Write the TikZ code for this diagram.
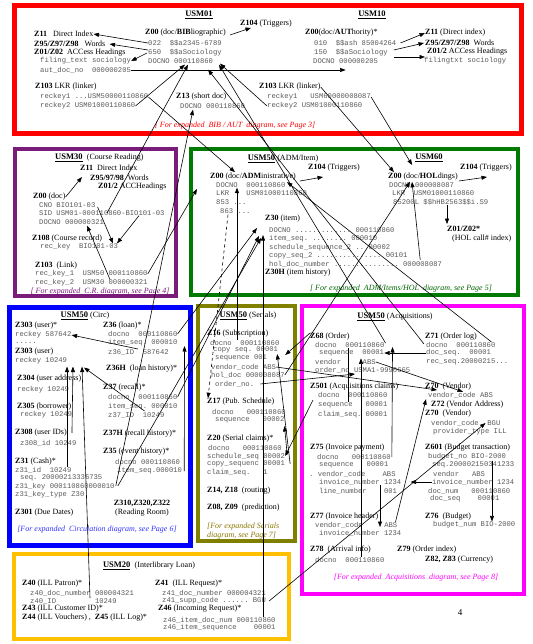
\documentclass[tikz,border=0pt]{standalone}
\usepackage{fontspec}
\setmainfont{Liberation Serif}
\setmonofont{Liberation Mono}
\usetikzlibrary{arrows.meta,calc}
\definecolor{monogray}{HTML}{5A5A5A}
\definecolor{fred}{HTML}{FF0000}
\definecolor{fpurple}{HTML}{7A1C7A}
\definecolor{fgreen}{HTML}{007A00}
\definecolor{fblue}{HTML}{0000FF}
\definecolor{folive}{HTML}{7F7F00}
\definecolor{fmag}{HTML}{FF00FF}
\definecolor{forange}{HTML}{FFC000}
\definecolor{ngreen}{HTML}{006400}
\definecolor{nblue}{HTML}{3333FF}
\definecolor{nolive}{HTML}{8B7500}
\begin{document}
\begin{tikzpicture}[x=1pt,y=-1pt,
 lab/.style={anchor=west,inner sep=0pt,font=\fontsize{8}{9}\selectfont},
 mono/.style={anchor=west,inner sep=0pt,text=monogray,font=\fontsize{7.2}{8}\selectfont\ttfamily},
 ttl/.style={inner sep=0pt,font=\fontsize{8.5}{10}\selectfont},
 note/.style={inner sep=0pt,font=\fontsize{8}{9}\selectfont\itshape},
 frame/.style={line width=4pt},
 ar/.style={line width=0.6pt,-{Triangle[length=5.5pt,width=4pt]}},
 ln/.style={line width=0.6pt}]
\fill[white] (0,0) rectangle (532,644);
\useasboundingbox (0,0) rectangle (532,644);
% frames
\draw[frame,line width=5pt,draw=fred] (14.5,5.5) rectangle (521,134);
\draw[frame,draw=fpurple] (15,149) rectangle (176,296);
\draw[frame,draw=fgreen] (191,149) rectangle (518,295);
\draw[frame,line width=5pt,draw=fblue] (9.5,307.5) rectangle (190.5,545.5);
\draw[frame,draw=folive] (198,306) rectangle (295,541);
\draw[frame,draw=fmag] (302,306) rectangle (524,594);
\draw[frame,draw=forange] (14,554) rectangle (289,639);

% ---------------- USM01
\node[ttl] (usm01) at (199,15) {\underline{\textbf{USM01}}};
\node[lab] (z104a) at (240,24) {\textbf{Z104} (Triggers)};
\node[lab] (z11a) at (34,34) {\textbf{Z11}~~ Direct Index};
\node[lab] (z95a) at (34,44) {\textbf{Z95/Z97/Z98}~~ Words};
\node[lab] (z01a) at (34,53) {\textbf{Z01/Z02}~ ACCess Headings};
\node[mono] (filt) at (40,61) {filing\_text sociology};
\node[mono] (autd) at (40,70) {aut\_doc\_no~~000000205};
\node[lab] (z00bib) at (145,33) {\textbf{Z00} (doc/\textbf{BIB}liographic)};
\node[mono] (f022) at (148,43) {022~~\$\$a2345-6789};
\node[mono] (f650) at (148,53) {650~~\$\$aSociology};
\node[mono] (docbib) at (148,61) {DOCNO 000110860};
\node[lab] (z103a) at (35,87) {\textbf{Z103} LKR (linker)};
\node[mono] (rk1a) at (40,97) {reckey1 ...USM50000110860};
\node[mono] (rk2a) at (40,106) {reckey2 USM01000110860};
\node[lab] (z13) at (176,97) {\textbf{Z13} (short doc)};
\node[mono] (docz13) at (180,106) {DOCNO 000110860};
\node[note,text=fred] (notebib) at (235,126) {[ For expanded~ BIB / AUT~ diagram, see Page 3]};
% ---------------- USM10
\node[ttl] (usm10) at (372,15) {\underline{\textbf{USM10}}};
\node[lab] (z00aut) at (305,33) {\textbf{Z00}(doc/\textbf{AUT}hority)*};
\node[mono] (f010) at (314,43) {010~~\$\$ash 85004264};
\node[mono] (f150) at (314,53) {150~~\$\$aSociology};
\node[mono] (docaut) at (313,61) {DOCNO 000000205};
\node[lab] (z11b) at (425,33) {\textbf{Z11} (Direct index)};
\node[lab] (z95b) at (425,43) {\textbf{Z95/Z97/Z98}~ Words};
\node[lab] (z01b) at (427,52) {\textbf{Z01/2} ACCess Headings};
\node[mono] (filb) at (424,61) {filingtxt sociology};
\node[lab] (z103b) at (259,87) {\textbf{Z103} LKR (linker)};
\node[mono] (rk1b) at (267,97) {reckey1~~~USM60000008087};
\node[mono] (rk2b) at (267,106) {reckey2 USM01000110860};

% ---------------- USM30
\node[ttl,anchor=west] (usm30) at (55,158) {\underline{\textbf{USM30}}~ \fontsize{8}{9}\selectfont(Course Reading)};
\node[lab] (z11c) at (80,168) {\textbf{Z11}~ Direct Index};
\node[lab] (z95c) at (90,178) {\textbf{Z95/97/98}~ Words};
\node[lab] (z01c) at (98,187) {\textbf{Z01/2} ACCHeadings};
\node[lab] (z00c) at (33,197) {\textbf{Z00} (doc)};
\node[mono] (cno) at (39,205) {CNO BIO101-03};
\node[mono] (sid) at (39,213) {SID USM01-000110860-BIO101-03};
\node[mono] (docc) at (39,222) {DOCNO 000000321};
\node[lab] (z108) at (32,239) {\textbf{Z108} (Course record)};
\node[mono] (reck) at (40,247) {rec\_key~~BIO101-03};
\node[lab] (z103c) at (35,266) {\textbf{Z103}~ (Link)};
\node[mono] (rk1c) at (35,274) {rec\_key\_1~~USM50 000110860};
\node[mono] (rk2c) at (35,283) {rec\_key\_2~~USM30 000000321};
\node[note,text=fpurple] (notecr) at (100,292) {[ For expanded~ C.R. diagram, see Page 4]};

% ---------------- USM50 ADM
\node[ttl] (usm50a) at (283,159) {\underline{\textbf{USM50}} \fontsize{8}{9}\selectfont(ADM/Item)};
\node[lab] (z104b) at (308,168) {\textbf{Z104} (Triggers)};
\node[lab] (z00adm) at (210,177) {\textbf{Z00} (doc/\textbf{ADM}inistrative)};
\node[mono] (docadm) at (216,185) {DOCNO~~000110860};
\node[mono] (lkradm) at (216,193) {LKR~~~~USM01000110860};
\node[mono] (f853) at (216,202) {853 ...};
\node[mono] (f863) at (220,211) {863 ...};
\node[lab] (z30) at (265,219) {\textbf{Z30} (item)};
\node[mono] (z30doc) at (269,230) {DOCNO ............. 000110860};
\node[mono] (z30seq) at (269,239) {item\_seq. ........ 000010};
\node[mono] (z30sch) at (269,248) {schedule\_sequence\_2 .. 00002};
\node[mono] (z30copy) at (269,256) {copy\_seq\_2 ............... 00101};
\node[mono] (z30hol) at (269,264) {hol\_doc\_number ............... 000008087};
\node[lab] (z30h) at (265,273) {\textbf{Z30H} (item history)};
\node[note,text=ngreen] (noteadm) at (401,289) {[ For expanded~ ADM/Items/HOL~ diagram, see Page 5]};
% ---------------- USM60
\node[ttl] (usm60) at (429,158) {\underline{\textbf{USM60}}};
\node[lab] (z104c) at (460,168) {\textbf{Z104} (Triggers)};
\node[lab] (z00hol) at (388,177) {\textbf{Z00} (doc/\textbf{HOL}dings)};
\node[mono] (dochol) at (389,185) {DOCNO 000008087};
\node[mono] (lkrhol) at (392,193) {LKR~~USM01000110860};
\node[mono] (f852) at (393,202) {85200L \$\$hHB2563\$\$i.S9};
\node[lab] (z01hol) at (447,229) {\textbf{Z01/Z02*}};
\node[lab] (holcall) at (452,239) {(HOL call\# index)};

% ---------------- USM50 Circ
\node[ttl] (usm50c) at (85,316) {\underline{\textbf{USM50}} \fontsize{8}{9}\selectfont(Circ)};
\node[lab] (z303a) at (15,326) {\textbf{Z303} (user)*};
\node[mono] (rk587) at (15,335) {reckey 587642};
\node[mono] (dots) at (15,343) {.....};
\node[lab] (z303b) at (15,352) {\textbf{Z303} (user)};
\node[mono] (rk10249) at (15,361) {reckey 10249};
\node[lab] (z304) at (17,379) {\textbf{Z304} (user address)};
\node[mono] (rk304) at (17,390) {reckey 10249};
\node[lab] (z305) at (17,407) {\textbf{Z305} (borrower)};
\node[mono] (rk305) at (20,415) {reckey 10249};
\node[lab] (z308) at (15,433) {\textbf{Z308} (user IDs)};
\node[mono] (z308id) at (20,443) {z308\_id 10249};
\node[lab] (z31) at (15,462) {\textbf{Z31} (Cash)*};
\node[mono] (z31id) at (15,470) {z31\_id~~10249};
\node[mono] (z31seq) at (20,478) {seq. 20000213336735};
\node[mono] (z31key) at (15,487) {z31\_key 000110860000010};
\node[mono] (z31kt) at (15,495) {z31\_key\_type Z30};
\node[lab] (z301) at (15,513) {\textbf{Z301} (Due Dates)};
\node[lab,anchor=center] (z310) at (142,503) {\textbf{Z310,Z320,Z322}};
\node[lab,anchor=center] (rroom) at (142,513) {(Reading Room)};
\node[note,text=nblue] (notecirc) at (97,530) {[For expanded~ Circulation diagram, see Page 6]};
\node[lab] (z36) at (103,326) {\textbf{Z36} (loan)*};
\node[mono] (z36doc) at (108,334) {docno~~000110860};
\node[mono] (z36seq) at (108,343) {item\_seq. 000010};
\node[mono] (z36id) at (108,352) {z36\_ID~~587642};
\node[lab] (z36h) at (106,369) {\textbf{Z36H}~ (loan history)*};
\node[lab] (z37) at (103,388) {\textbf{Z37} (recall)*};
\node[mono] (z37doc) at (108,397) {docno~~000110860};
\node[mono] (z37seq) at (108,407) {item\_seq. 000010};
\node[mono] (z37id) at (108,415) {z37\_ID~~10249};
\node[lab] (z37h) at (103,434) {\textbf{Z37H} (recall history)*};
\node[lab] (z35) at (103,452) {\textbf{Z35} (event history)*};
\node[mono] (z35doc) at (115,462) {docno 000110860};
\node[mono] (z35seq) at (117,471) {item\_seq.000010};

% ---------------- USM50 Serials
\node[ttl] (usm50s) at (248,316) {\underline{\textbf{USM50}} \fontsize{8}{9}\selectfont(Serials)};
\node[lab] (z16) at (207,334) {\textbf{Z16} (Subscription)};
\node[mono] (z16doc) at (210,343) {docno~~000110860};
\node[mono] (z16copy) at (213,350) {copy seq. 00001};
\node[mono] (z16seq) at (215,358) {sequence 001};
\node[mono] (z16vend) at (211,367) {vendor\_code ABS};
\node[mono] (z16hol) at (211,375) {hol\_doc 000008087};
\node[mono] (z16ord) at (215,384) {order\_no.};
\node[lab] (z17) at (207,402) {\textbf{Z17} (Pub. Schedule)};
\node[mono] (z17doc) at (212,412) {docno~~~000110860};
\node[mono] (z17seq) at (215,420) {sequence~~~00002};
\node[lab] (z20) at (207,439) {\textbf{Z20} (Serial claims)*};
\node[mono] (z20doc) at (208,448) {docno~~~000110860};
\node[mono] (z20sch) at (207,457) {schedule\_seq 00002};
\node[mono] (z20copy) at (207,464) {copy\_sequenc 00001};
\node[mono] (z20cl) at (207,473) {claim\_seq.~~~1};
\node[lab] (z14) at (207,491) {\textbf{Z14, Z18}~ (routing)};
\node[lab] (z08) at (207,508) {\textbf{Z08, Z09}~ (prediction)};
\node[note,text=nolive,anchor=west] (noteser1) at (207,527) {[For expanded Serials};
\node[note,text=nolive,anchor=west] (noteser2) at (207,536) {diagram, see Page 7]};

% ---------------- USM50 Acquisitions
\node[ttl] (usm50q) at (395,317) {\underline{\textbf{USM50}} \fontsize{8}{9}\selectfont(Acquisitions)};
\node[lab] (z68) at (310,337) {\textbf{Z68} (Order)};
\node[mono] (z68doc) at (315,345) {docno~~000110860};
\node[mono] (z68seq) at (319,353) {sequence~~00001};
\node[mono] (z68vend) at (315,362) {vendor~~~~~ABS};
\node[mono] (z68ord) at (315,370) {order\_no USMA1-9990665};
\node[lab] (z71) at (425,337) {\textbf{Z71} (Order log)};
\node[mono] (z71doc) at (426,345) {docno~~000110860};
\node[mono] (z71seq) at (426,353) {doc\_seq.~~00001};
\node[mono] (z71rec) at (426,362) {rec\_seq.20000215...};
\node[lab] (z501) at (310,387) {\textbf{Z501} (Acquisitions claims)};
\node[mono] (z501doc) at (318,395) {docno~~000110860};
\node[mono] (z501seq) at (318,405) {sequence~~~00001};
\node[mono] (z501cl) at (318,415) {claim\_seq. 00001};
\node[lab] (z70a) at (425,387) {\textbf{Z70}~ (Vendor)};
\node[mono] (z70vc) at (428,395) {vendor\_code ABS};
\node[lab] (z72) at (431,405) {\textbf{Z72} (Vendor Address)};
\node[lab] (z70b) at (425,414) {\textbf{Z70}~ (Vendor)};
\node[mono] (z70bgu) at (431,423) {vendor\_code~~BGU};
\node[mono] (z70pt) at (433,432) {provider\_type ILL};
\node[lab] (z75) at (310,448) {\textbf{Z75} (Invoice payment)};
\node[mono] (z75doc) at (317,457) {docno~~~000110860};
\node[mono] (z75seq) at (319,465) {sequence~~~00001};
\node[mono] (z75vend) at (309,474) {. vendor\_code~~~~ABS};
\node[mono] (z75inv) at (319,482) {invoice\_number 1234};
\node[mono] (z75line) at (319,491) {line\_number~~~~001};
\node[lab] (z77) at (310,517) {\textbf{Z77} (Invoice header)};
\node[mono] (z77vend) at (315,525) {vendor\_code~~~~~ABS};
\node[mono] (z77inv) at (319,533) {invoice\_number 1234};
\node[lab] (z601) at (425,448) {\textbf{Z601} (Budget transaction)};
\node[mono] (z601bud) at (428,457) {budget\_no BIO-2000};
\node[mono] (z601seq) at (432,465) {seq.200002150341233};
\node[mono] (z601vend) at (433,474) {vendor~~~ABS};
\node[mono] (z601inv) at (432,482) {invoice\_number 1234};
\node[mono] (z601doc) at (428,491) {doc\_num~~~000110860};
\node[mono] (z601ds) at (430,499) {doc\_seq~~~~00001};
\node[lab] (z76) at (425,517) {\textbf{Z76}~ (Budget)};
\node[mono] (z76num) at (433,525) {budget\_num BIO-2000};
\node[lab] (z78) at (310,550) {\textbf{Z78}~ (Arrival info)};
\node[mono] (z78doc) at (315,560) {docno~~000110860};
\node[lab] (z79) at (397,550) {\textbf{Z79} (Order index)};
\node[lab] (z82) at (425,560) {\textbf{Z82, Z83} (Currency)};
\node[note,text=fmag] (noteacq) at (416,578) {[For expanded~ Acquisitions~ diagram, see Page 8]};

% ---------------- USM20
\node[ttl] (usm20) at (149,566) {\underline{\textbf{USM20}}~ \fontsize{8}{9}\selectfont(Interlibrary Loan)};
\node[lab] (z40) at (22,584) {\textbf{Z40} (ILL Patron)*};
\node[mono] (z40doc) at (30,593) {z40\_doc\_number 000004321};
\node[mono] (z40id) at (30,601) {z40\_ID~~~~~~~~~10249};
\node[lab] (z43) at (22,609) {\textbf{Z43} (ILL Customer ID)*};
\node[lab] (z44) at (22,618) {\textbf{Z44} (ILL Vouchers) ,~ \textbf{Z45} (ILL Log)*};
\node[lab] (z41) at (155,584) {\textbf{Z41}~ (ILL Request)*};
\node[mono] (z41doc) at (162,593) {z41\_doc\_number 000004321};
\node[mono] (z41supp) at (162,601) {z41\_supp\_code ...... BGU};
\node[lab] (z46) at (158,609) {\textbf{Z46} (Incoming Request)*};
\node[mono] (z46doc) at (163,620) {z46\_item\_doc\_num 000110860};
\node[mono] (z46seq) at (163,628) {z46\_item\_sequence~~~~00001};
\node[font=\fontsize{9}{10}\selectfont,inner sep=0pt] (pg) at (460,613) {4};

% ================= connectors
% USM01 / USM10
\draw[ar] (f022.west) -- (z11a.east);
\draw[ar] ($(f650.west)+(0,-3)$) -- ($(z95a.east)+(4,0)$);
\draw[ar] ($(f650.west)+(-1,0)$) -- (filt.east);
\draw[ar] (autd.east) -- (autd.east -| docaut.south);
\draw[ar] ($(z00bib.east)+(4,2)$) -- ($(z104a.south west)+(11,0)$);
\draw[ar] ($(f010.east)+(4,0)$) -- (z11b.west);
\draw[ar] ($(f150.east)+(6,-3)$) -- ($(z95b.west)+(-1,0)$);
\draw[ar] ($(f150.east)+(6,4)$) -- ($(z01b.west)+(-2,5)$);
\draw[ar] (rk2a.east) -- ($(docbib.south west)+(37,1)$);
\draw[ar] (rk1a.east) -- ($(z00adm.north west)+(25,-1)$);
\draw[ar] (rk2b.west) -- ($(docbib.south west)+(72,0)$);
\draw[ar] (rk1b.east) -- ($(usm60.west)+(-3,7)$);
\draw[ar] (z103b.east) -- ($(z00hol.north west)+(6,-1)$);
% USM30
\draw[ar] (z00c.east) -- ($(z11c.west)+(2,9)$);
\draw[ar] ($(cno.east)+(2,2)$) -- ($(reck.north west)+(73,0)$);
\draw[ar] ($(sid.south west)+(100,0)$) -- ($(reck.north west)+(77,0)$);
\draw[ar] ($(rk2c.north west)+(75,0)$) -- ($(docc.south west)+(48,1)$);
\draw[ar] ($(sid.west)+(68,0)$) -- ($(docbib.south west)+(40,1)$);
\draw[ar] (rk1c.east) -- ($(docadm.west)+(-19,4)$);
% ADM / HOL
\draw[ar] ($(z00adm.east)+(4,4)$) -- ($(z104b.west)+(15,9)$);
\draw[ar] ($(z00hol.east)+(1,4)$) -- ($(z104c.west)+(27,9)$);
\draw[ar] ($(f852.south west)+(54,0)$) -- ($(z01hol.north west)+(0,-2)$);
\draw[ar] ($(z16doc.north west)+(27,0)$) -- ($(docadm.south west)+(21,0)$);
\draw[ar,dashed] ($(f863.south west)+(8,1)$) -- ($(z17.north west)+(1,0)$);
\draw[ar] ($(z46doc.north west)+(100,0)$) -- ($(z30seq.west)+(-6,-4)$);
\draw[ar] ($(z30hol.east)+(-22,-4)$) -- ($(z00hol.south west)+(24,1)$);
\draw[ar] ($(z71doc.east)+(-4,-3)$) -- ($(z00adm.east)+(-9,5)$);
\draw[ar] ($(z71doc.west)+(-2,-1)$) -- ($(docbib.south west)+(60,6)$);
\draw[ar] ($(z68doc.east)+(1,-2)$) -- ($(docbib.south west)+(71,1)$);
\draw[ar] (z16hol.east) -- ($(z00hol.south west)+(22,1)$);
% Circ
\draw[ar] (z36doc.east) -- ($(z30doc.west)+(-12,-2)$);
\draw[ar] (z37doc.east) -- ($(z30seq.west)+(-10,-3)$);
\draw[ar] ($(z31key.east)+(3,-1)$) -- ($(z30seq.west)+(-8,-1)$);
\draw[ar] ($(z31key.east)+(1,-1)$) -- ($(docz13.south west)+(13,1)$);
\draw[ar] ($(z36id.north west)+(30,0)$) -- (rk587.east);
\draw[ar] ($(z31id.north west)+(52,0)$) -- ($(rk10249.south west)+(52,2)$);
\draw[ar] ($(z308.east)+(5,0)$) -- ($(rk10249.south west)+(58,2)$);
\draw[ar] ($(z40id.north west)+(60,0)$) -- ($(rk10249.south west)+(67,2)$);
\draw[ar] ($(z37id.east)+(-20,-4)$) -- ($(rk10249.south west)+(69,3)$);
\draw[ar] ($(z35seq.east)+(2,0)$) -- ($(z36seq.east)+(7,3)$);
% Serials
\draw[ar] ($(z20copy.east)+(5,0)$) -- ($(z16copy.east)+(-1,4)$);
\draw[ar] ($(z20sch.east)+(2,-2)$) -- ($(z17seq.east)+(0,6)$);
\draw[ar] ($(z501.west)+(3,13)$) -- ($(z20sch.east)+(0,-1)$);
\draw[ar] ($(z68.west)+(0,-4)$) -- ($(z16copy.east)+(7,5)$);
\draw[ar] (z16vend.east) -- ($(z70a.west)+(12,3)$);
\draw[ar] ($(z16ord.east)+(6,0)$) -- ($(z68ord.west)+(40,4)$);
% Acquisitions
\draw[ar] (z68vend.east) -- ($(z70vc.north west)+(35,0)$);
\draw[ar] (z71seq.west) -- (z68seq.east);
\draw[ar] ($(z75doc.east)+(1,0)$) -- ($(z68doc.east)+(8,2)$);
\draw[ar] ($(z78doc.north west)+(46,0)$) -- ($(z68seq.south west)+(42,2)$);
\draw[ln] ($(z501seq.north west)+(30,0)$) -- ($(z68doc.south west)+(33,0)$);
\draw[ar] (z601inv.west) -- ($(z75inv.east)+(9,0)$);
\draw[ar] ($(z75inv.south west)+(61,0)$) -- ($(z77vend.west)+(65,2)$);
\draw[ar] ($(z601bud.south west)+(64,0)$) -- ($(z76num.north west)+(59,0)$);
\draw[ar] ($(z77vend.east)+(-2,-3)$) -- ($(z70vc.south west)+(-2,1)$);
\draw[ar] ($(z41supp.east)+(3,0)$) -- ($(z70bgu.east)+(-15,0)$);
\end{tikzpicture}
\end{document}
